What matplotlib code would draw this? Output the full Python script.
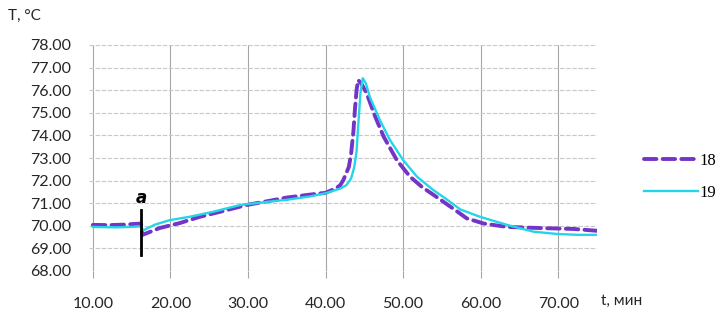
import matplotlib
matplotlib.use("Agg")
import matplotlib.pyplot as plt

# Data
t18 = [10, 12, 14, 16.2, 16.4, 18.6, 21.2, 23.8, 26.4, 29.8, 33, 35, 38, 40, 40.6, 41.3, 41.9, 42.3,
       43.0, 43.3, 43.6, 43.8, 44.0, 44.2, 44.6, 45.3, 46.4, 47.5, 49.2, 50.9, 52.5, 54.0, 56.5,
       58.2, 60.4, 63.4, 67.7, 72.0, 75.0]
T18 = [70.04, 70.03, 70.05, 70.1, 69.6, 69.9, 70.12, 70.4, 70.62, 70.92, 71.12, 71.25, 71.38, 71.46,
       71.55, 71.65, 71.8, 72.03, 72.6, 73.2, 74.2, 75.2, 76.0, 76.45, 76.3, 75.86, 74.83, 73.94,
       72.9, 72.17, 71.7, 71.35, 70.75, 70.33, 70.1, 69.95, 69.9, 69.86, 69.78]

t19 = [10, 13, 16.2, 16.5, 18, 19.9, 22.5, 25.5, 29, 33, 35, 38, 40.1, 41.9, 42.7, 43.3, 43.7, 44.0,
       44.2, 44.5, 44.8, 45.2, 45.7, 47.0, 48.3, 50.0, 51.8, 53.9, 55.5, 57.4, 59.9, 63.4, 66.8,
       69.8, 72.5, 75.0]
T19 = [69.95, 69.93, 69.97, 69.8, 70.05, 70.25, 70.4, 70.62, 70.92, 71.08, 71.15, 71.3, 71.45, 71.65,
       71.8, 72.1, 72.6, 73.3, 74.38, 75.86, 76.53, 76.3, 75.71, 74.68, 73.80, 72.91, 72.17, 71.58,
       71.2, 70.72, 70.4, 70.04, 69.74, 69.64, 69.6, 69.6]

series_labels = ["18", "19"]
xticks = [10, 20, 30, 40, 50, 60, 70]
yticks = [68, 69, 70, 71, 72, 73, 74, 75, 76, 77, 78]
marker_t = 16.2
marker_y = [68.7, 70.68]

W, H = 716, 322
fig = plt.figure(figsize=(W / 100, H / 100), dpi=100)
ax = fig.add_axes([89 / W, 1 - 271 / H, (597 - 89) / W, (271 - 45) / H])

ax.plot(t18, T18, color="#7434c8", lw=2.8, ls=(0, (3.2, 1.6)), label=series_labels[0],
        solid_capstyle="butt", dash_capstyle="round", zorder=3)
ax.plot(t19, T19, color="#22d6e8", lw=1.7, label=series_labels[1], zorder=4)

ax.plot([marker_t, marker_t], marker_y, color="black", lw=2.0, zorder=5)
ax.text(marker_t, 71.25, "a", fontsize=12, fontweight="bold", fontstyle="italic",
        ha="center", va="center", family="DejaVu Sans")

ax.set_xlim(9.5, 75)
ax.set_ylim(68, 78)
ax.set_xticks(xticks)
ax.set_yticks(yticks)
ax.set_xticklabels([f"{v:.2f}" for v in xticks])
ax.set_yticklabels([f"{v:.2f}" for v in yticks])
for lab in ax.get_xticklabels() + ax.get_yticklabels():
    lab.set_fontfamily("Lato")
    lab.set_fontsize(11.5)
    lab.set_color("#262626")

ax.grid(axis="y", color="#c8c8c8", lw=0.8, ls=(0, (4, 1.5)))
ax.grid(axis="x", color="#a6a6a6", lw=0.8)
for s in ax.spines.values():
    s.set_visible(False)
ax.tick_params(axis="x", length=5, color="#a6a6a6", width=0.8, pad=14)
ax.tick_params(axis="y", length=0, pad=13)
ax.set_axisbelow(True)

fig.text(8 / W, 1 - 16 / H, "T, °C", fontsize=11, family="Lato", color="#262626",
         ha="left", va="center")
fig.text(601 / W, 1 - 301 / H, "t, мин", fontsize=11, family="Lato", color="#262626",
         ha="left", va="center")

leg = fig.legend(loc="center left", bbox_to_anchor=(636 / W, 1 - 177 / H), frameon=False,
                 prop={"family": "Liberation Serif", "size": 12}, handlelength=3.2,
                 handletextpad=0.1, labelspacing=1.0, borderpad=0)

fig.savefig("out.png", dpi=100)
